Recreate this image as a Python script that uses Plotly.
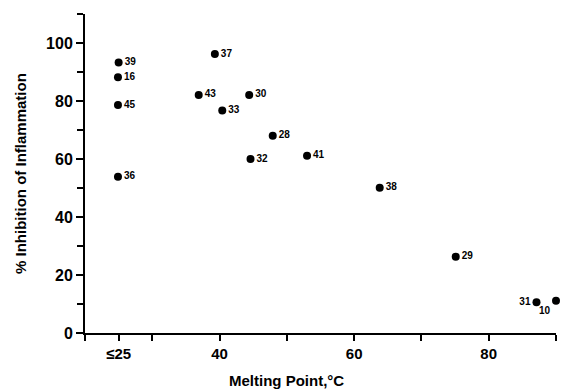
import plotly.graph_objects as go

# Data
compound = ["39", "16", "45", "36", "37", "43", "30", "33", "28", "32", "41", "38", "29", "31", "10"]
melting_point = [25.0, 24.9, 24.9, 24.9, 39.3, 36.9, 44.4, 40.4, 47.9, 44.6, 53.0, 63.8, 75.1, 87.1, 90.0]
inhibition = [93.3, 88.2, 78.6, 53.9, 96.2, 82.1, 82.1, 76.7, 68.0, 60.0, 61.1, 50.1, 26.3, 10.6, 11.1]
label_pos = ["middle right"] * 13 + ["middle left", "bottom left"]

x_tickvals = [25, 40, 60, 80]
x_ticktext = ["<b>≤25</b>", "<b>40</b>", "<b>60</b>", "<b>80</b>"]
y_tickvals = [0, 20, 40, 60, 80, 100]
y_ticktext = ["<b>0</b>", "<b>20</b>", "<b>40</b>", "<b>60</b>", "<b>80</b>", "<b>100</b>"]

FONT = "Liberation Sans, Arial, Helvetica, sans-serif"
W, H = 563, 390
ML, MR, MT, MB = 85, 7, 14, 57

fig = go.Figure()
fig.add_trace(go.Scatter(
    x=melting_point, y=inhibition, mode="markers+text",
    text=["<b>%s</b>" % c for c in compound], textposition=label_pos,
    textfont=dict(family=FONT, size=10, color="black"),
    marker=dict(size=8, color="black"),
    cliponaxis=False, showlegend=False,
))

fig.update_layout(
    width=W, height=H,
    margin=dict(l=ML, r=MR, t=MT, b=MB),
    plot_bgcolor="white", paper_bgcolor="white",
    font=dict(family=FONT, color="black"),
    xaxis=dict(
        range=[20, 90], tickmode="array", tickvals=x_tickvals, ticktext=x_ticktext,
        ticks="outside", ticklen=6, tickwidth=2, tickcolor="black",
        minor=dict(tick0=20, dtick=10, ticks="outside", ticklen=6, tickwidth=2, tickcolor="black"),
        showline=True, linecolor="black", linewidth=2, showgrid=False, zeroline=False,
        tickfont=dict(family=FONT, size=15), automargin=False,
    ),
    yaxis=dict(
        range=[0, 110], tickmode="array", tickvals=y_tickvals, ticktext=y_ticktext,
        ticks="outside", ticklen=7, tickwidth=2, tickcolor="black",
        minor=dict(tick0=0, dtick=10, ticks="outside", ticklen=6, tickwidth=2, tickcolor="black"),
        showline=True, linecolor="black", linewidth=2, showgrid=False, zeroline=False,
        tickfont=dict(family=FONT, size=16), automargin=False,
    ),
    annotations=[
        dict(text="<b>Melting Point,°C</b>", x=50, y=-(380 - (H - MB)) / (H - MB - MT),
             xref="x", yref="paper",
             showarrow=False, xanchor="center", yanchor="middle",
             font=dict(family=FONT, size=15, color="black")),
        dict(text="<b>% Inhibition of Inflammation</b>",
             x=(21 - ML) / (W - ML - MR), y=(H - MB - 174) / (H - MB - MT),
             xref="paper", yref="paper",
             showarrow=False, textangle=-90, xanchor="center", yanchor="middle",
             font=dict(family=FONT, size=15, color="black")),
    ],
)

fig.write_html("out.html", config={"displayModeBar": False},
               post_script="document.body.style.margin='0';document.body.style.overflow='hidden';")
